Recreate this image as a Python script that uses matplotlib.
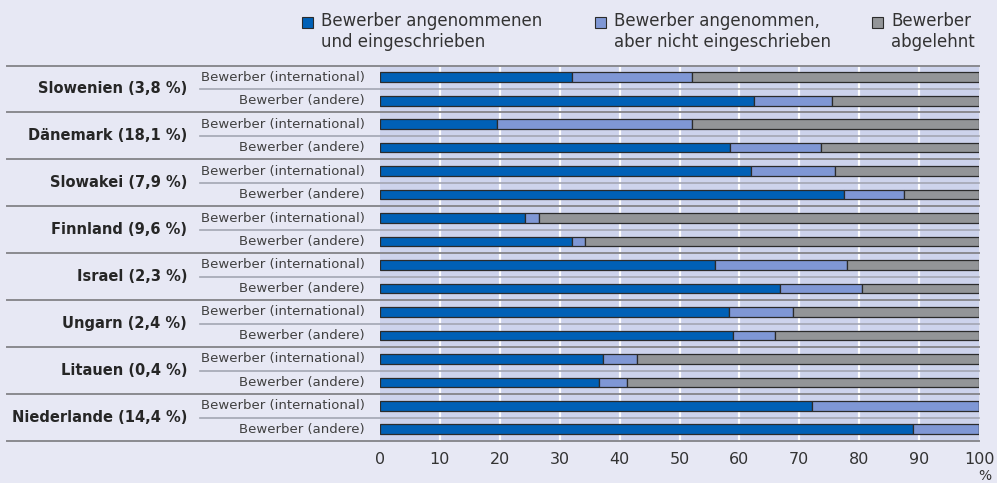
import matplotlib.pyplot as plt
from matplotlib.patches import Rectangle

# Anteile der Bewerber je Land, in Prozent
countries = ["Slowenien (3,8 %)", "Dänemark (18,1 %)", "Slowakei (7,9 %)", "Finnland (9,6 %)",
             "Israel (2,3 %)", "Ungarn (2,4 %)", "Litauen (0,4 %)", "Niederlande (14,4 %)"]
groups = ["Bewerber (international)", "Bewerber (andere)"]

enrolled_intl = [32.1, 19.6, 61.9, 24.2, 55.9, 58.2, 37.3, 72.1]
admitted_intl = [20.0, 32.5, 14.1, 2.4, 22.0, 10.8, 5.6, 27.9]
rejected_intl = [47.9, 47.9, 24.0, 73.4, 22.1, 31.0, 57.1, 0.0]

enrolled_other = [62.4, 58.4, 77.5, 32.1, 66.7, 59.0, 36.6, 89.0]
admitted_other = [13.0, 15.3, 10.0, 2.1, 13.8, 7.0, 4.6, 11.0]
rejected_other = [24.6, 26.3, 12.5, 65.8, 19.5, 34.0, 58.8, 0.0]

legend_labels = ["Bewerber angenommenen\nund eingeschrieben",
                 "Bewerber angenommen,\naber nicht eingeschrieben",
                 "Bewerber\nabgelehnt"]
xticks = [0, 10, 20, 30, 40, 50, 60, 70, 80, 90, 100]

c_enrolled = "#0060b6"
c_admitted = "#7f97d5"
c_rejected = "#939598"
fig_bg = "#e7e8f4"
ax_bg = "#cdd3ec"
txt = "#333333"

plt.rcParams["font.family"] = ["DejaVu Sans"]

W, H = 997, 483
fig = plt.figure(figsize=(W / 100, H / 100), dpi=100, facecolor=fig_bg)

x0, x1 = 380, 979
y_top, y_bot = 65.5, 441
ax = fig.add_axes([x0 / W, 1 - y_bot / H, (x1 - x0) / W, (y_bot - y_top) / H])
ax.set_facecolor(ax_bg)

# Zeilen: je Land zwei Balken (international, andere)
enrolled, admitted, rejected, rows = [], [], [], []
for i in range(len(countries)):
    enrolled += [enrolled_intl[i], enrolled_other[i]]
    admitted += [admitted_intl[i], admitted_other[i]]
    rejected += [rejected_intl[i], rejected_other[i]]
    rows += [2 * i, 2 * i + 1]

left2 = [e + a for e, a in zip(enrolled, admitted)]
kw = dict(height=0.41, edgecolor="#2b2b2b", linewidth=0.9, zorder=3)
ax.barh(rows, enrolled, color=c_enrolled, **kw)
ax.barh(rows, admitted, left=enrolled, color=c_admitted, **kw)
ax.barh(rows, rejected, left=left2, color=c_rejected, **kw)

n = len(rows)
ax.set_xlim(0, 100)
ax.set_ylim(n - 0.5, -0.5)

for x in xticks[1:-1]:
    ax.axvline(x, color="white", linewidth=1.6, zorder=1)

# Trennlinien: Länder bis zum linken Rand, Untergruppen bis zu den Beschriftungen
span = (x1 - x0)
for k in range(n + 1):
    y = k - 0.5
    if k % 2 == 0:
        ax.axhline(y, xmin=-(x0 - 7) / span, xmax=1, color="#8a8a8f",
                   linewidth=1.4, clip_on=False, zorder=2)
    else:
        ax.axhline(y, xmin=-(x0 - 200) / span, xmax=1, color="#a3a6b3",
                   linewidth=1.2, clip_on=False, zorder=2)

for i, name in enumerate(countries):
    ax.text(-(x0 - 187) / span * 100, 2 * i + 0.5, name, ha="right", va="center",
            fontsize=10.5, fontweight="bold", color="#262626", clip_on=False)
    for j, g in enumerate(groups):
        ax.text(-(x0 - 365) / span * 100, 2 * i + j, g, ha="right", va="center",
                fontsize=9.5, color="#404040", clip_on=False)

ax.set_yticks([])
ax.set_xticks(xticks)
ax.set_xticklabels([str(v) for v in xticks], fontsize=11.5, color=txt)
ax.tick_params(axis="x", length=0, pad=8)
for s in ax.spines.values():
    s.set_visible(False)
ax.text(101.0, -0.075, "%", transform=ax.get_xaxis_transform(), ha="center", va="top",
        fontsize=10, color=txt)

# Legende oben
legend_x = [302, 595, 872]
for lx, lab, col in zip(legend_x, legend_labels, [c_enrolled, c_admitted, c_rejected]):
    fig.patches.append(Rectangle((lx / W, 1 - 28 / H), 11 / W, 11 / H, transform=fig.transFigure,
                                 facecolor=col, edgecolor="#2b2b2b", linewidth=0.8))
    fig.text((lx + 19) / W, 1 - 12 / H, lab, ha="left", va="top", fontsize=12,
             color=txt, linespacing=1.2)

fig.savefig("out.png", dpi=100, facecolor=fig_bg)
